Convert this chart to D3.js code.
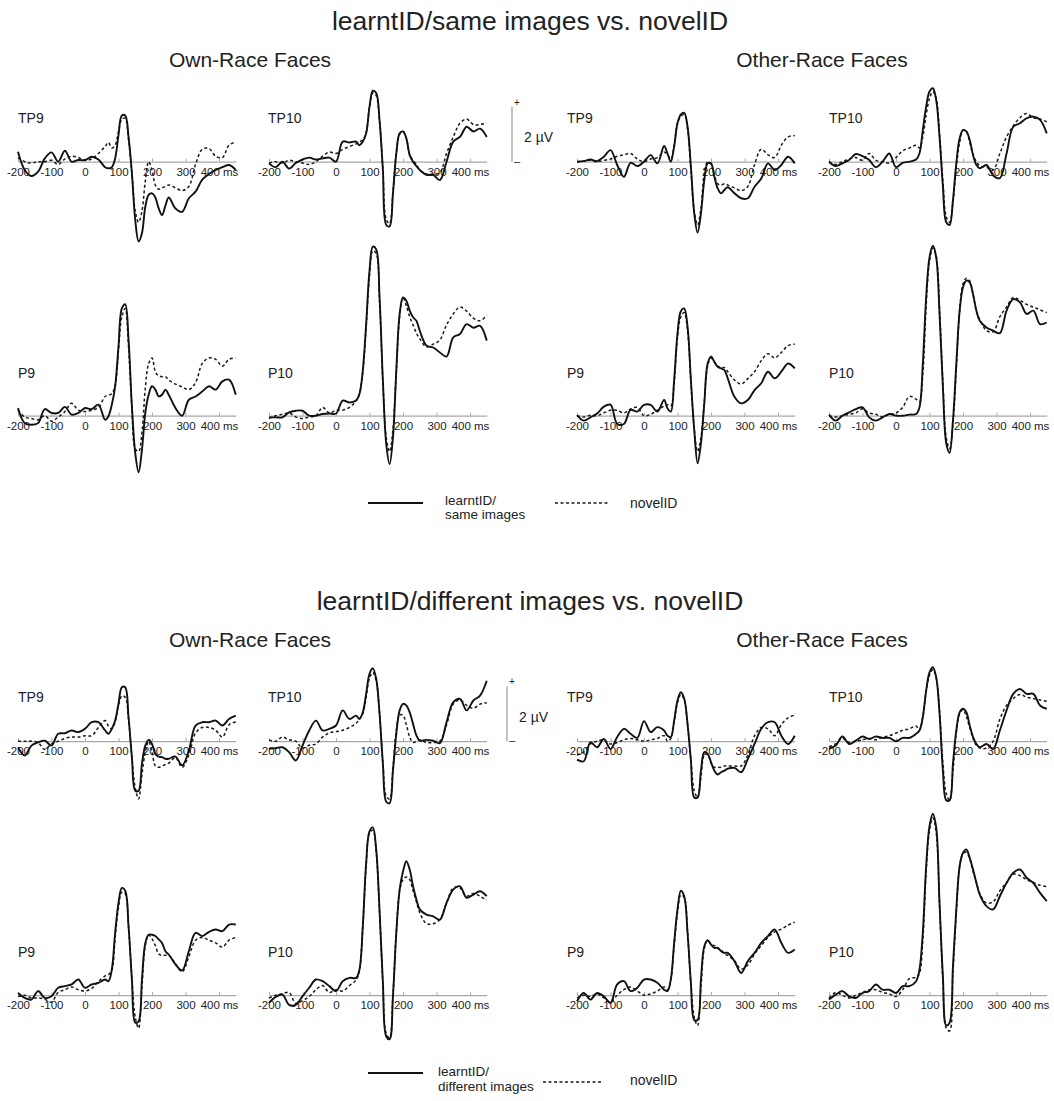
<!DOCTYPE html>
<html><head><meta charset="utf-8">
<script src="https://cdn.jsdelivr.net/npm/d3@7"></script>
<style>
body{margin:0;background:#fff}
svg{display:block}
text{font-family:"Liberation Sans",Arial,Helvetica,sans-serif;fill:#222}
</style>
</head><body>
<svg id="chart" width="1054" height="1101"></svg>
<script>
// ---------- data ----------
const times = [-200,-180,-160,-140,-120,-100,-80,-60,-40,-20,0,20,40,60,70,80,90,100,110,120,130,140,150,160,170,180,190,200,210,220,230,240,250,270,290,310,330,350,370,390,410,430,450];
const sectionTitles = ["learntID/same images vs. novelID", "learntID/different images vs. novelID"];
const groupTitles = ["Own-Race Faces", "Other-Race Faces"];
const electrodes = ["TP9", "TP10", "P9", "P10"];
const tickValues = [-200,-100,0,100,200,300,400];
const tickLabels = ["-200","-100","0","100","200","300","400 ms"];
const legendSolidLabels = [["learntID/","same images"],["learntID/","different images"]];
const legendDashedLabel = "novelID";
const scaleLabel = "2 µV";
const scaleValue = 2;

// learntID/same images vs novelID — Own-Race
const sameOwnTP9Learnt = [0.36,-0.3,-0.52,-0.36,0.12,0.34,0.0,0.4,0.0,0.06,0.06,0.18,0.08,-0.2,-0.24,-0.2,0.12,0.97,1.68,1.68,0.9,-0.42,-2.12,-2.9,-2.6,-1.64,-1.21,-1.15,-1.3,-1.7,-1.94,-1.6,-1.3,-1.7,-1.82,-1.33,-1.09,-0.65,-0.45,-0.3,-0.2,-0.12,-0.3];
const sameOwnTP9Novel  = [0.15,0.0,-0.05,0.0,0.0,0.05,-0.1,0.1,0.2,0.15,0.05,0.1,0.3,0.55,0.7,0.5,0.6,1.1,1.55,1.58,0.8,-0.4,-1.8,-2.2,-1.8,-0.7,0.0,-0.3,-0.85,-1.0,-0.95,-0.9,-0.85,-0.95,-1.05,-0.9,-0.1,0.45,0.48,0.2,0.15,0.6,0.72];
const sameOwnTP10Learnt = [-0.06,-0.2,0.0,-0.25,-0.05,0.08,0.15,0.08,0.12,0.15,0.0,0.73,0.7,0.73,0.6,0.73,1.03,2.0,2.58,2.5,1.5,-0.3,-2.3,-2.35,-1.15,0.3,1.03,1.1,0.85,0.24,0.0,-0.16,-0.3,-0.48,-0.48,-0.67,0.0,0.73,0.9,1.27,1.1,1.2,0.9];
const sameOwnTP10Novel  = [-0.05,0.0,-0.05,0.05,0.0,-0.05,-0.1,0.0,0.2,0.35,0.3,0.45,0.55,0.65,0.72,0.8,1.05,1.95,2.5,2.4,1.5,-0.3,-2.1,-2.25,-1.1,0.3,1.0,1.1,0.85,0.25,0.05,-0.1,-0.3,-0.45,-0.45,-0.4,0.3,0.9,1.4,1.55,1.35,1.35,1.4];
const sameOwnP9Learnt = [0.28,-0.27,-0.33,-0.27,0.24,0.1,0.1,0.32,0.04,0.1,0.28,0.24,0.4,-0.15,-0.02,0.4,1.07,2.52,3.9,4.05,2.76,0.34,-1.36,-2.06,-1.24,0.1,0.76,1.07,0.95,0.7,0.76,0.95,0.76,0.28,0.0,0.58,0.7,0.88,1.07,0.95,1.25,1.31,0.76];
const sameOwnP9Novel  = [0.2,-0.05,-0.1,-0.15,0.0,-0.2,-0.05,0.15,0.45,0.2,0.15,0.2,0.3,0.7,0.75,0.8,1.1,2.4,3.6,3.9,2.5,0.3,-1.2,-1.3,-0.6,1.0,1.9,2.1,1.6,1.45,1.42,1.42,1.3,1.15,1.05,0.95,1.2,1.9,2.1,2.05,1.8,2.05,2.1];
const sameOwnP10Learnt = [-0.06,-0.06,-0.06,0.12,0.18,0.18,0.0,0.0,0.06,0.08,0.08,0.55,0.48,0.55,0.79,1.64,3.33,5.27,6.15,6.05,4.3,1.27,-1.03,-1.76,-0.79,1.64,3.7,4.3,4.18,3.82,3.58,3.45,3.09,2.55,2.48,2.3,2.15,2.85,2.97,3.33,3.2,3.27,2.73];
const sameOwnP10Novel  = [-0.1,0.0,0.05,0.1,-0.05,-0.1,-0.05,0.0,0.3,0.1,0.2,0.2,0.3,0.55,0.8,1.6,3.2,5.1,6.0,5.9,4.2,1.2,-0.8,-1.3,-0.5,1.6,3.6,4.3,4.0,3.6,3.3,3.0,2.8,2.5,2.6,2.75,3.3,3.7,3.95,3.8,3.55,3.45,3.65];
// learntID/same images vs novelID — Other-Race
const sameOtherTP9Learnt = [0.0,0.02,0.08,0.02,0.18,0.42,-0.12,-0.55,-0.04,-0.16,0.0,0.24,-0.06,0.57,0.3,0.0,0.55,1.4,1.72,1.78,1.27,-0.18,-1.88,-2.58,-1.88,-0.67,-0.06,-0.06,-0.55,-0.97,-1.15,-1.03,-0.93,-1.15,-1.33,-1.33,-0.91,-0.61,-0.06,-0.3,-0.12,0.18,-0.06];
const sameOtherTP9Novel  = [0.0,0.02,0.05,0.0,0.05,0.1,0.2,0.25,0.3,0.1,0.0,0.1,0.15,0.35,0.25,0.1,0.6,1.4,1.65,1.72,1.2,-0.3,-1.8,-2.3,-1.7,-0.4,0.0,-0.1,-0.5,-0.8,-0.85,-0.8,-0.85,-0.95,-1.05,-0.9,-0.1,0.45,0.25,0.15,0.6,0.9,0.95];
const sameOtherTP10Learnt = [0.0,-0.16,-0.06,0.06,0.28,0.2,0.06,-0.2,0.0,0.3,-0.2,-0.04,0.0,0.08,0.3,1.15,2.0,2.55,2.67,2.24,0.9,-0.9,-2.2,-2.3,-1.4,-0.06,0.85,1.15,1.1,0.8,0.24,-0.12,-0.24,-0.12,-0.5,-0.6,0.3,1.27,1.4,1.58,1.64,1.52,1.03];
const sameOtherTP10Novel  = [0.0,-0.1,0.0,0.1,0.15,0.05,0.3,0.05,0.0,-0.05,0.15,0.4,0.5,0.6,0.5,0.9,1.7,2.3,2.55,2.3,1.0,-0.7,-2.0,-2.2,-1.5,-0.2,0.7,1.15,1.1,0.7,0.25,0.0,-0.15,-0.2,-0.3,0.3,0.9,1.3,1.6,1.75,1.6,1.55,1.45];
const sameOtherP9Learnt = [0.02,-0.18,-0.06,0.08,0.33,0.4,-0.3,-0.3,0.21,0.15,0.39,0.39,0.15,0.57,0.27,0.15,1.3,2.99,3.8,3.9,3.24,1.3,-0.52,-1.73,-1.0,0.45,1.9,2.15,1.96,1.78,1.72,1.66,1.36,0.69,0.45,0.57,0.93,1.18,1.6,1.36,1.6,1.9,1.72];
const sameOtherP9Novel  = [0.0,-0.05,0.02,0.0,0.1,0.2,0.2,0.1,0.25,0.3,0.0,0.05,0.2,0.35,0.4,0.35,1.2,2.85,3.6,3.75,3.1,1.2,-0.5,-1.3,-0.8,0.5,1.8,2.1,1.95,1.8,1.75,1.75,1.6,1.3,1.15,1.35,1.6,2.0,2.25,2.1,2.3,2.55,2.6];
const sameOtherP10Learnt = [0.04,-0.18,0.0,0.12,0.24,0.3,-0.06,-0.18,-0.06,0.06,0.0,0.0,0.04,0.06,0.3,1.88,4.3,5.76,6.18,5.76,3.7,1.03,-1.0,-1.35,-0.18,1.88,3.82,4.67,4.91,4.85,4.42,3.82,3.45,3.21,3.09,3.0,3.82,4.24,4.12,3.7,3.82,3.33,3.39];
const sameOtherP10Novel  = [0.0,-0.05,0.0,0.05,0.1,0.25,0.1,0.05,-0.05,0.05,0.1,0.3,0.7,0.6,0.5,1.5,4.0,5.6,6.1,5.8,3.9,1.2,-0.8,-1.2,-0.3,1.7,3.8,4.8,5.0,4.9,4.4,3.8,3.5,3.1,3.05,3.6,3.95,4.3,4.2,4.05,3.95,3.85,3.75];
// learntID/different images vs novelID — Own-Race
const diffOwnTP9Learnt = [-0.22,-0.52,-0.16,-0.04,0.02,-0.16,0.27,0.29,0.39,0.33,0.45,0.69,0.69,0.39,0.27,0.45,0.75,1.36,1.96,1.96,0.87,-0.58,-1.8,-1.8,-0.82,-0.16,0.05,-0.1,-0.46,-0.56,-0.58,-0.64,-0.64,-0.56,-0.88,-0.34,0.57,0.69,0.69,0.75,0.57,0.81,0.93];
const diffOwnTP9Novel  = [0.0,0.0,0.0,-0.05,-0.3,-0.1,0.0,0.1,0.15,0.15,0.2,0.2,0.5,0.75,0.55,0.45,0.7,1.3,1.65,1.6,0.8,-0.6,-1.7,-2.1,-1.2,-0.4,0.0,-0.4,-0.9,-0.95,-0.9,-0.85,-0.8,-0.6,-0.95,-0.5,0.3,0.5,0.5,0.4,0.15,0.6,0.7];
const diffOwnTP10Learnt = [-0.28,-0.25,-0.22,-0.4,-0.7,-0.16,0.39,0.75,0.39,0.45,0.57,1.12,0.81,0.93,0.81,1.05,1.72,2.45,2.65,2.27,1.0,-0.82,-2.2,-2.25,-1.07,0.27,1.12,1.36,1.3,1.05,0.63,0.21,0.02,0.05,0.02,-0.07,0.69,1.42,1.54,1.12,1.48,1.66,2.2];
const diffOwnTP10Novel  = [0.05,0.0,0.15,0.05,0.0,-0.25,-0.15,-0.1,0.15,0.3,0.35,0.4,0.5,0.65,0.8,1.0,1.6,2.3,2.5,2.2,1.0,-0.8,-2.0,-2.1,-1.0,0.4,0.95,0.95,0.6,0.15,-0.05,0.0,0.05,-0.05,-0.05,0.0,0.6,1.35,1.5,1.3,1.2,1.35,1.4];
const diffOwnP9Learnt = [0.08,-0.1,-0.16,0.15,-0.1,-0.04,0.27,0.33,0.39,0.57,0.27,0.39,0.45,0.57,0.51,0.93,2.27,3.36,3.9,3.8,2.5,0.57,-1.0,-0.95,0.57,1.9,2.2,2.2,2.15,2.03,1.9,1.6,1.48,1.12,0.9,1.6,2.27,2.15,2.3,2.39,2.33,2.57,2.57];
const diffOwnP9Novel  = [-0.05,0.0,-0.1,-0.1,-0.15,-0.25,0.1,0.2,0.3,0.2,0.15,0.25,0.5,0.7,0.75,0.9,2.1,3.2,3.75,3.7,2.5,0.6,-0.8,-1.2,0.3,1.8,2.2,2.05,1.8,1.5,1.45,1.45,1.45,1.15,0.85,1.4,2.0,2.1,2.0,1.9,1.75,2.0,2.1];
const diffOwnP10Learnt = [-0.28,-0.06,0.02,-0.35,-0.35,-0.04,0.27,0.57,0.51,0.33,0.15,0.51,0.63,0.63,0.93,2.5,4.81,5.96,6.1,5.3,3.1,0.45,-1.5,-1.6,-0.04,2.27,3.84,4.5,4.87,4.57,3.96,3.48,3.12,2.93,2.87,2.75,3.36,3.84,3.96,3.54,3.66,3.78,3.6];
const diffOwnP10Novel  = [-0.1,0.0,0.05,0.1,-0.3,-0.2,-0.05,0.2,0.35,0.1,0.2,0.15,0.35,0.55,0.9,2.5,4.7,5.9,6.0,5.2,3.0,0.4,-1.4,-1.55,0.0,2.3,3.8,4.2,4.3,4.2,3.8,3.4,3.0,2.6,2.6,2.75,3.35,3.9,3.9,3.6,3.7,3.6,3.45];
// learntID/different images vs novelID — Other-Race
const diffOtherTP9Learnt = [-0.67,-0.73,-0.04,-0.22,0.08,-0.28,0.15,0.45,0.27,0.12,0.73,0.33,0.51,0.39,0.2,0.15,0.75,1.48,1.78,1.55,0.63,-0.7,-2.05,-2.05,-1.07,-0.4,-0.46,-0.76,-1.07,-1.21,-1.13,-1.07,-1.0,-0.97,-1.13,-0.64,-0.1,0.45,0.69,0.69,0.2,-0.1,0.2];
const diffOtherTP9Novel  = [-0.5,-0.4,-0.1,0.0,0.05,-0.1,-0.05,0.05,0.1,0.05,0.0,0.05,0.1,0.2,0.0,0.1,0.7,1.4,1.7,1.5,0.6,-0.7,-1.8,-2.05,-1.3,-0.5,-0.45,-0.8,-0.95,-0.95,-0.95,-0.9,-0.9,-0.9,-0.9,-0.5,0.2,0.5,0.45,0.2,0.6,0.85,0.95];
const diffOtherTP10Learnt = [-0.28,-0.16,0.17,-0.1,0.02,0.17,0.08,0.17,0.12,0.12,0.0,0.12,0.12,0.27,0.39,0.87,1.84,2.5,2.69,2.33,1.0,-1.07,-2.15,-2.15,-0.82,0.39,1.05,1.18,1.05,0.57,0.15,-0.1,-0.22,-0.1,-0.28,0.39,1.12,1.72,1.9,1.72,1.72,1.3,1.18];
const diffOtherTP10Novel  = [-0.2,-0.1,0.1,-0.05,0.0,0.05,0.1,0.05,0.15,0.2,0.3,0.4,0.45,0.55,0.4,0.9,1.8,2.4,2.6,2.3,1.1,-0.8,-1.9,-2.15,-1.1,0.3,1.0,1.15,0.9,0.5,0.1,-0.15,-0.25,-0.25,0.0,0.8,1.3,1.55,1.7,1.6,1.55,1.5,1.45];
const diffOtherP9Learnt = [-0.22,0.08,-0.16,0.08,-0.04,-0.28,0.39,0.51,0.15,0.27,0.57,0.57,0.45,0.2,0.15,0.57,1.9,3.12,3.8,3.6,2.27,0.45,-0.9,-0.9,0.57,1.78,2.0,1.84,1.72,1.72,1.6,1.54,1.54,1.24,0.81,1.24,1.54,1.9,2.15,2.39,1.9,1.54,1.66];
const diffOtherP9Novel  = [-0.1,0.0,-0.05,0.05,-0.1,-0.25,0.0,0.2,0.3,0.15,0.0,0.05,0.15,0.3,0.2,0.55,1.8,3.0,3.65,3.55,2.3,0.4,-0.8,-1.1,0.3,1.7,2.0,1.85,1.8,1.7,1.65,1.5,1.45,1.25,0.95,1.1,1.5,1.8,2.1,2.3,2.4,2.55,2.65];
const diffOtherP10Learnt = [-0.16,0.02,0.15,-0.04,-0.1,0.08,0.15,0.39,0.2,0.2,0.08,0.33,0.33,0.51,0.93,2.27,4.69,6.15,6.6,6.1,3.33,0.69,-1.1,-1.0,1.05,3.12,4.69,5.18,5.3,5.0,4.57,4.08,3.66,3.24,3.12,3.6,4.08,4.45,4.57,4.27,4.08,3.72,3.42];
const diffOtherP10Novel  = [-0.1,0.1,0.0,-0.1,0.0,0.1,0.2,0.2,0.1,0.05,-0.05,0.2,0.6,0.65,0.8,2.0,4.5,6.0,6.45,5.9,3.3,0.5,-1.2,-1.3,0.8,3.0,4.7,5.15,5.2,4.95,4.5,4.1,3.7,3.35,3.4,3.8,4.1,4.4,4.35,4.2,4.1,4.0,3.95];

const panelData = [
  [ // section 0
    [[sameOwnTP9Learnt,sameOwnTP9Novel],[sameOwnTP10Learnt,sameOwnTP10Novel],[sameOwnP9Learnt,sameOwnP9Novel],[sameOwnP10Learnt,sameOwnP10Novel]],
    [[sameOtherTP9Learnt,sameOtherTP9Novel],[sameOtherTP10Learnt,sameOtherTP10Novel],[sameOtherP9Learnt,sameOtherP9Novel],[sameOtherP10Learnt,sameOtherP10Novel]]
  ],
  [ // section 1
    [[diffOwnTP9Learnt,diffOwnTP9Novel],[diffOwnTP10Learnt,diffOwnTP10Novel],[diffOwnP9Learnt,diffOwnP9Novel],[diffOwnP10Learnt,diffOwnP10Novel]],
    [[diffOtherTP9Learnt,diffOtherTP9Novel],[diffOtherTP10Learnt,diffOtherTP10Novel],[diffOtherP9Learnt,diffOtherP9Novel],[diffOtherP10Learnt,diffOtherP10Novel]]
  ]
];

// ---------- layout ----------
const svg = d3.select("#chart");
const sectionTop = [0, 579.5];
const colX = [[18, 269], [577, 829]];     // [group][col] x-position of -200 ms
const labelDx = [[0, -1], [-10, 0]];
const rowBase = [161.7, 415.7];           // baseline y per row (relative to section)
const pxPerMs = 0.335;
const pxPerUV = 27.5;
const scaleBarX = [512, 507];
const legendLayout = [
  {solid:[368,423,503], text:[445,505,519], dash:[555,608,503], novel:[630,508]},
  {solid:[368,423,1073], text:[438,1076,1091], dash:[543,603,1082], novel:[630,1085]}
];

const lineGen = (x, y) => d3.line()
  .x((d, i) => x(times[i]))
  .y(d => y(d))
  .curve(d3.curveCatmullRom.alpha(0.5));

sectionTitles.forEach((title, s) => {
  const top = sectionTop[s];
  const g = svg.append("g");
  g.append("text").attr("x", 530).attr("y", top + 30).attr("text-anchor", "middle")
    .style("font-size", "26.5px").text(title);
  groupTitles.forEach((gt, gi) => {
    g.append("text").attr("x", gi === 0 ? 250 : 822).attr("y", top + 67)
      .attr("text-anchor", "middle").style("font-size", "21px").text(gt);
    electrodes.forEach((el, ei) => {
      const col = ei % 2, row = Math.floor(ei / 2);
      const x0 = colX[gi][col];
      const y0 = top + rowBase[row];
      const x = d3.scaleLinear().domain([-200, 450]).range([x0, x0 + 650 * pxPerMs]);
      const y = d3.scaleLinear().domain([0, 1]).range([y0, y0 - pxPerUV]);
      const p = g.append("g");
      // axis
      const ax = d3.axisBottom(x).tickValues(tickValues)
        .tickSizeInner(-3).tickSizeOuter(0).tickPadding(6)
        .tickFormat((d, i) => tickLabels[i]);
      const axg = p.append("g").attr("transform", `translate(0,${y0})`).call(ax);
      axg.select(".domain").attr("stroke", "#a8a8a8").attr("stroke-width", 1.2);
      axg.selectAll(".tick line").attr("stroke", "#a8a8a8");
      axg.selectAll(".tick text").style("font-size", "11.5px").attr("fill", "#333")
        .style("font-family", '"Liberation Sans",Arial,sans-serif');
      // electrode label
      p.append("text").attr("x", x0 + labelDx[gi][col]).attr("y", y0 - (row === 0 ? 39 : 38))
        .style("font-size", "14px").attr("fill", "#333").text(el);
      // curves
      const [learnt, novel] = panelData[s][gi][ei];
      p.append("path").datum(novel).attr("d", lineGen(x, y)).attr("fill", "none")
        .attr("stroke", "#1a1a1a").attr("stroke-width", 1.5).attr("stroke-dasharray", "3,2.5");
      p.append("path").datum(learnt).attr("d", lineGen(x, y)).attr("fill", "none")
        .attr("stroke", "#111").attr("stroke-width", 1.9);
    });
  });
  // scale bar
  const yb = d3.scaleLinear().domain([0, 1]).range([top + rowBase[0], top + rowBase[0] - pxPerUV]);
  const sx = scaleBarX[s];
  g.append("line").attr("x1", sx).attr("x2", sx).attr("y1", yb(0)).attr("y2", yb(scaleValue))
    .attr("stroke", "#999").attr("stroke-width", 1.2);
  g.append("text").attr("x", sx + 5).attr("y", yb(scaleValue) - 1).attr("text-anchor", "middle")
    .style("font-size", "10px").attr("fill", "#555").text("+");
  g.append("text").attr("x", sx + 5).attr("y", yb(0) + 3).attr("text-anchor", "middle")
    .style("font-size", "11px").attr("fill", "#555").text("–");
  g.append("text").attr("x", sx + 12).attr("y", yb(scaleValue / 2) + 8)
    .style("font-size", "14px").attr("fill", "#333").text(scaleLabel);
  // legend
  const L = legendLayout[s];
  g.append("line").attr("x1", L.solid[0]).attr("x2", L.solid[1]).attr("y1", L.solid[2]).attr("y2", L.solid[2])
    .attr("stroke", "#111").attr("stroke-width", 1.9);
  g.append("text").attr("x", L.text[0]).attr("y", L.text[1]).style("font-size", "13.5px").text(legendSolidLabels[s][0]);
  g.append("text").attr("x", L.text[0]).attr("y", L.text[2]).style("font-size", "13.5px").text(legendSolidLabels[s][1]);
  g.append("line").attr("x1", L.dash[0]).attr("x2", L.dash[1]).attr("y1", L.dash[2]).attr("y2", L.dash[2])
    .attr("stroke", "#1a1a1a").attr("stroke-width", 1.5).attr("stroke-dasharray", "3,2.5");
  g.append("text").attr("x", L.novel[0]).attr("y", L.novel[1]).style("font-size", "14px").text(legendDashedLabel);
});
</script>
</body></html>
